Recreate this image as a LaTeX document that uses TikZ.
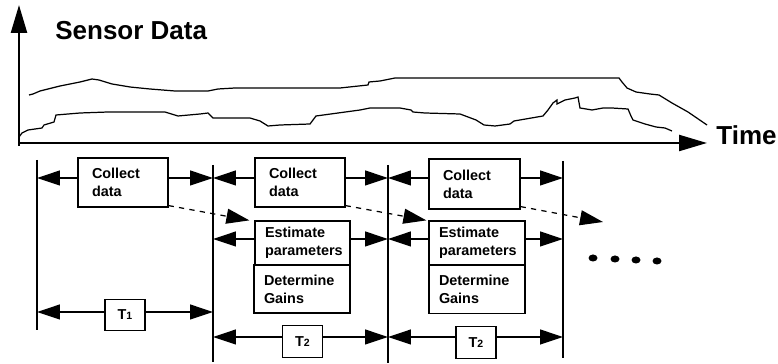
\documentclass[tikz,border=0pt]{standalone}
\usepackage{fontspec}
\setmainfont{Liberation Sans}
\usetikzlibrary{arrows.meta}

\tikzset{
    tip/.style={-{Triangle[length=0.46cm,width=0.3cm]}},
    axis/.style={line width=1.3pt,-{Triangle[length=0.56cm,width=0.32cm]}},
    box/.style={draw, line width=0.7pt, align=left, inner xsep=0.2cm, inner ysep=0pt,
        font=\fontsize{8.2pt}{10.2pt}\selectfont\bfseries},
    tbox/.style={draw, line width=0.7pt, minimum width=0.8cm, minimum height=0.63cm,
        inner sep=0pt, font=\fontsize{8.2pt}{10.2pt}\selectfont\bfseries},
    big/.style={inner sep=0pt, anchor=west, font=\fontsize{14.8pt}{16pt}\selectfont\bfseries}
}
\newcommand{\sub}[1]{{\fontsize{6pt}{6pt}\selectfont #1}}

\begin{document}
\begin{tikzpicture}[x=0.02cm,y=-0.02cm]
    \useasboundingbox (0,0) rectangle (778,364);

    \draw[axis] (19,146) -- (19,5);
    \draw[axis] (18,143) -- (707,143);
    \node[big] (title) at (55,31) {Sensor Data};
    \node[big] (tlabel) at (716,135) {Time};

    \draw[line width=0.7pt] (29,95) -- (33,94) -- (40,91) -- (60,86) -- (80,82) -- (92,79) -- (99,80)
        -- (112,84) -- (130,87) -- (150,89) -- (175,91) -- (208,91) -- (218,89) -- (235,88)
        -- (340,88) -- (368,85) -- (369,82) -- (380,81) -- (395,78) -- (619,78) -- (622,82)
        -- (627,88) -- (636,92) -- (650,94) -- (659,95) -- (672,103) -- (688,112) -- (707,125);
    \draw[line width=0.7pt] (19,137) -- (22,133) -- (28,130) -- (42,128) -- (44,125) -- (54,122)
        -- (56,115) -- (80,113) -- (108,112) -- (165,112) -- (178,116) -- (200,114) -- (208,113)
        -- (213,118) -- (250,118) -- (260,121) -- (268,126) -- (280,125) -- (310,124) -- (316,116)
        -- (360,110) -- (370,108) -- (400,108) -- (411,110) -- (413,112) -- (425,113) -- (460,114)
        -- (476,120) -- (484,125) -- (495,126) -- (510,124) -- (514,121) -- (543,116) -- (548,110)
        -- (553,103) -- (557,100) -- (557,104) -- (565,100) -- (575,98) -- (578,97) -- (580,108)
        -- (592,110) -- (603,108) -- (612,108) -- (628,109) -- (631,116) -- (633,120) -- (645,124)
        -- (656,127) -- (665,128) -- (672,131);

    \coordinate (v1) at (37,0);
    \coordinate (v2) at (213,0);
    \coordinate (v3) at (388,0);
    \coordinate (v4) at (563,0);
    \draw[line width=0.6pt] (37,160) -- (37,330);
    \draw[line width=0.6pt] (213,165) -- (213,362);
    \draw[line width=0.6pt] (388,165) -- (388,363);
    \draw[line width=0.6pt] (563,161) -- (563,358);

    \node[box, text width=1.24cm, inner xsep=0.28cm, minimum height=0.98cm] (cd1) at (123,182.5) {Collect\\data};
    \node[box, text width=1.24cm, inner xsep=0.28cm, minimum height=0.98cm] (cd2) at (300,182.5) {Collect\\data};
    \node[box, text width=1.26cm, inner xsep=0.28cm, minimum height=1.0cm] (cd3) at (474.5,184) {Collect\\data};
    \node[box, text width=1.5cm, minimum height=0.88cm] (ep1) at (302.5,243) {Estimate\\parameters};
    \node[box, text width=1.52cm, minimum height=0.96cm] (dg1) at (302,289) {Determine\\Gains};
    \node[box, text width=1.52cm, minimum height=0.88cm] (ep2) at (477,243) {Estimate\\parameters};
    \node[box, text width=1.52cm, minimum height=0.96cm] (dg2) at (477,289.5) {Determine\\Gains};
    \node[tbox] (t1) at (125,315) {T\sub{1}};
    \node[tbox] (t2a) at (302.5,341.5) {T\sub{2}};
    \node[tbox] (t2b) at (476,342.5) {T\sub{2}};

    \foreach \b/\l/\r/\y in {cd1/v1/v2/178, cd2/v2/v3/178, cd3/v3/v4/178, ep1/v2/v3/239,
        ep2/v3/v4/239, t1/v1/v2/312, t2a/v2/v3/337, t2b/v3/v4/337} {
        \draw[tip, line width=0.7pt] (\b.west |- 0,\y) -- (\l |- 0,\y);
        \draw[tip, line width=0.7pt] (\b.east |- 0,\y) -- (\r |- 0,\y);
    }

    \coordinate (next) at (603,222);
    \draw[tip, dashed, line width=0.7pt] ([yshift=0.04cm]cd1.south east) -- ([xshift=-0.1cm]ep1.north west);
    \draw[tip, dashed, line width=0.7pt] ([yshift=0.04cm]cd2.south east) -- ([xshift=-0.04cm]ep2.north west);
    \draw[tip, dashed, line width=0.7pt] ([yshift=0.06cm]cd3.south east) -- (next);

    \foreach \x/\y in {593/258, 615/259, 636/260, 657/261}
        \fill (\x,\y) ellipse (0.09cm and 0.07cm);
\end{tikzpicture}
\end{document}
